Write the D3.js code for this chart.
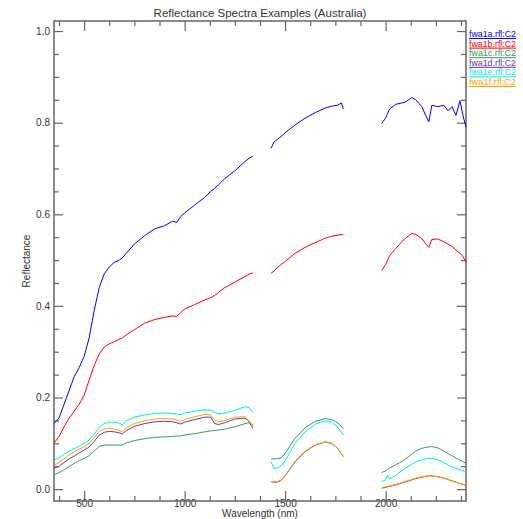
<!DOCTYPE html>
<html>
<head>
<meta charset="utf-8">
<script src="https://cdn.jsdelivr.net/npm/d3@7"></script>
<style>
  body { margin: 0; background: #fff; }
  svg text { font-family: "Liberation Sans", Arial, sans-serif; fill: #333; }
</style>
</head>
<body>
<script>
// wavelength grids (nm) for the three measured segments
const wl1 = [350, 375, 400, 425, 450, 475, 500, 525, 550, 575, 600, 625, 650, 675, 690, 710, 750, 800, 850, 900, 940, 960, 980, 1000, 1050, 1100, 1130, 1150, 1170, 1200, 1250, 1300, 1320, 1340];
const wl2 = [1430, 1445, 1460, 1480, 1500, 1550, 1600, 1650, 1700, 1730, 1760, 1780, 1790];
const wl3 = [1980, 2000, 2010, 2020, 2050, 2080, 2100, 2130, 2150, 2180, 2200, 2215, 2230, 2260, 2290, 2310, 2330, 2350, 2370, 2385, 2400];

const names = ["fwa1a.rfl:C2", "fwa1b.rfl:C2", "fwa1c.rfl:C2", "fwa1d.rfl:C2", "fwa1e.rfl:C2", "fwa1f.rfl:C2"];
const colors = ["#0000ff", "#ff0000", "#3a9a62", "#7034a0", "#00e8f0", "#ffa500"];

const fwa1a = [
  [0.143, 0.155, 0.185, 0.215, 0.245, 0.265, 0.29, 0.33, 0.39, 0.44, 0.47, 0.485, 0.495, 0.50, 0.505, 0.515, 0.535, 0.553, 0.568, 0.575, 0.585, 0.582, 0.595, 0.603, 0.62, 0.637, 0.65, 0.657, 0.665, 0.678, 0.695, 0.715, 0.722, 0.727],
  [0.744, 0.758, 0.763, 0.77, 0.778, 0.795, 0.81, 0.822, 0.832, 0.836, 0.838, 0.843, 0.83],
  [0.798, 0.81, 0.82, 0.83, 0.84, 0.843, 0.845, 0.855, 0.85, 0.835, 0.815, 0.802, 0.838, 0.835, 0.838, 0.826, 0.835, 0.816, 0.848, 0.816, 0.79]
];
const fwa1b = [
  [0.10, 0.115, 0.136, 0.155, 0.17, 0.185, 0.205, 0.238, 0.27, 0.295, 0.31, 0.317, 0.322, 0.327, 0.33, 0.337, 0.348, 0.362, 0.37, 0.375, 0.378, 0.377, 0.385, 0.393, 0.403, 0.413, 0.418, 0.423, 0.43, 0.44, 0.452, 0.464, 0.469, 0.472],
  [0.471, 0.476, 0.483, 0.49, 0.497, 0.515, 0.528, 0.538, 0.548, 0.552, 0.554, 0.556, 0.555],
  [0.477, 0.49, 0.5, 0.51, 0.525, 0.54, 0.548, 0.558, 0.556, 0.547, 0.535, 0.528, 0.545, 0.546, 0.54, 0.535, 0.53, 0.522, 0.515, 0.508, 0.495]
];
const fwa1c = [
  [0.031, 0.036, 0.042, 0.049, 0.056, 0.062, 0.067, 0.073, 0.083, 0.093, 0.096, 0.096, 0.096, 0.096, 0.096, 0.101, 0.106, 0.11, 0.113, 0.114, 0.115, 0.116, 0.116, 0.118, 0.121, 0.125, 0.127, 0.128, 0.129, 0.131, 0.136, 0.143, 0.145, 0.14],
  [0.066, 0.066, 0.066, 0.068, 0.078, 0.111, 0.134, 0.148, 0.154, 0.152, 0.145, 0.137, 0.132],
  [0.036, 0.04, 0.043, 0.046, 0.053, 0.06, 0.066, 0.076, 0.083, 0.089, 0.091, 0.092, 0.093, 0.09, 0.083, 0.078, 0.073, 0.068, 0.063, 0.06, 0.056]
];
const fwa1d = [
  [0.045, 0.05, 0.058, 0.066, 0.072, 0.079, 0.085, 0.092, 0.104, 0.118, 0.124, 0.126, 0.125, 0.123, 0.12, 0.128, 0.137, 0.143, 0.147, 0.148, 0.147, 0.145, 0.142, 0.146, 0.152, 0.157, 0.157, 0.143, 0.141, 0.145, 0.153, 0.155, 0.148, 0.132],
  [0.016, 0.015, 0.015, 0.019, 0.029, 0.06, 0.082, 0.096, 0.103, 0.1, 0.09, 0.078, 0.071],
  [0.002, 0.004, 0.005, 0.006, 0.009, 0.013, 0.016, 0.02, 0.023, 0.026, 0.028, 0.029, 0.029, 0.027, 0.024, 0.021, 0.018, 0.015, 0.012, 0.01, 0.009]
];
const fwa1e = [
  [0.063, 0.068, 0.076, 0.083, 0.088, 0.094, 0.1, 0.107, 0.12, 0.135, 0.143, 0.146, 0.146, 0.144, 0.14, 0.149, 0.157, 0.162, 0.165, 0.166, 0.165, 0.164, 0.162, 0.166, 0.17, 0.173, 0.172, 0.167, 0.164, 0.166, 0.172, 0.18, 0.178, 0.167],
  [0.06, 0.045, 0.046, 0.05, 0.062, 0.1, 0.125, 0.142, 0.149, 0.146, 0.136, 0.124, 0.118],
  [0.016, 0.02, 0.03, 0.022, 0.03, 0.04, 0.046, 0.054, 0.059, 0.064, 0.066, 0.067, 0.067, 0.064, 0.058, 0.053, 0.048, 0.045, 0.042, 0.04, 0.038]
];
const fwa1f = [
  [0.052, 0.058, 0.066, 0.075, 0.081, 0.087, 0.093, 0.1, 0.112, 0.126, 0.131, 0.133, 0.131, 0.128, 0.124, 0.134, 0.143, 0.149, 0.153, 0.154, 0.153, 0.151, 0.148, 0.152, 0.158, 0.163, 0.162, 0.15, 0.147, 0.15, 0.157, 0.158, 0.15, 0.136],
  [0.017, 0.016, 0.016, 0.02, 0.03, 0.061, 0.083, 0.097, 0.103, 0.1, 0.09, 0.078, 0.071],
  [0.003, 0.005, 0.006, 0.007, 0.01, 0.014, 0.017, 0.021, 0.024, 0.027, 0.028, 0.029, 0.029, 0.027, 0.024, 0.021, 0.018, 0.015, 0.012, 0.01, 0.009]
];

const xMajor = [500, 1000, 1500, 2000];
const yMajor = [0, 0.2, 0.4, 0.6, 0.8, 1.0];

const series = [fwa1a, fwa1b, fwa1c, fwa1d, fwa1e, fwa1f];
const grids = [wl1, wl2, wl3];

const W = 523, H = 519;
const frame = {left: 54, right: 466, top: 21, bottom: 501};

const x = d3.scaleLinear().domain([350, 2400]).range([frame.left, frame.right]);
const y = d3.scaleLinear().domain([-0.026, 1.022]).range([frame.bottom, frame.top]);

const xMinor = d3.range(375, 2400, 125).filter(v => xMajor.indexOf(v) < 0);
const yMinor = d3.range(0, 1.0001, 0.05).map(v => +v.toFixed(2)).filter(v => yMajor.indexOf(v) < 0);

const svg = d3.select("body").append("svg")
  .attr("width", W).attr("height", H);

const axisColor = "#666";

// ticks (IDL style, inward, on all four sides)
function ticks(axisFn, scale, values, size, tx, ty) {
  let g = svg.append("g")
    .attr("transform", "translate(" + tx + "," + ty + ")")
    .call(axisFn(scale).tickValues(values).tickSize(size).tickFormat(""));
  g.select(".domain").remove();
  g.selectAll("line").attr("stroke", axisColor).attr("stroke-width", 1.2);
  return g;
}
ticks(d3.axisBottom, x, xMajor, -10, 0, frame.bottom);
ticks(d3.axisBottom, x, xMinor, -5, 0, frame.bottom);
ticks(d3.axisTop, x, xMajor, -10, 0, frame.top);
ticks(d3.axisTop, x, xMinor, -5, 0, frame.top);
ticks(d3.axisLeft, y, yMajor, -9, frame.left, 0);
ticks(d3.axisLeft, y, yMinor, -5, frame.left, 0);
ticks(d3.axisRight, y, yMajor, -9, frame.right, 0);
ticks(d3.axisRight, y, yMinor, -5, frame.right, 0);

// tick labels
let xl = svg.append("g")
  .attr("transform", "translate(0," + frame.bottom + ")")
  .call(d3.axisBottom(x).tickValues(xMajor).tickSize(0).tickPadding(0).tickFormat(d3.format("d")));
xl.select(".domain").remove();
xl.selectAll("text").attr("dy", null).attr("y", 6).style("font-size", "10px").attr("fill", "#333");

let yl = svg.append("g")
  .attr("transform", "translate(" + frame.left + ",0)")
  .call(d3.axisLeft(y).tickValues(yMajor).tickSize(0).tickPadding(4).tickFormat(d3.format(".1f")));
yl.select(".domain").remove();
yl.selectAll("text").style("font-size", "10px").attr("fill", "#333");

// frame
svg.append("rect")
  .attr("x", frame.left).attr("y", frame.top)
  .attr("width", frame.right - frame.left).attr("height", frame.bottom - frame.top)
  .attr("fill", "none").attr("stroke", axisColor).attr("stroke-width", 1.5);

// spectra, drawn in file order so fwa1f lies on top
let line = d3.line().x(d => x(d[0])).y(d => y(d[1]));
series.forEach((s, i) => {
  s.forEach((seg, k) => {
    let pts = grids[k].map((w, j) => [w, seg[j]]);
    svg.append("path")
      .attr("d", line(pts))
      .attr("fill", "none")
      .attr("stroke", colors[i])
      .attr("stroke-width", 1);
  });
});

// titles
svg.append("text")
  .attr("x", (frame.left + frame.right) / 2).attr("y", 17)
  .attr("text-anchor", "middle")
  .style("font-size", "11.5px")
  .text("Reflectance Spectra Examples (Australia)");

svg.append("text")
  .attr("x", (frame.left + frame.right) / 2).attr("y", 516.5)
  .attr("text-anchor", "middle")
  .style("font-size", "10px")
  .text("Wavelength (nm)");

svg.append("text")
  .attr("transform", "translate(30," + ((frame.top + frame.bottom) / 2) + ") rotate(-90)")
  .attr("text-anchor", "middle")
  .style("font-size", "10px")
  .text("Reflectance");

// legend
let leg = svg.append("g");
names.forEach((n, i) => {
  let yy = 37 + i * 9.6;
  leg.append("text")
    .attr("x", 469).attr("y", yy)
    .attr("textLength", 47).attr("lengthAdjust", "spacingAndGlyphs")
    .style("font-size", "9.5px")
    .style("fill", colors[i])
    .text(n);
  leg.append("line")
    .attr("x1", 469).attr("x2", 516)
    .attr("y1", yy + 1.5).attr("y2", yy + 1.5)
    .attr("stroke", colors[i]).attr("stroke-width", 1);
});
</script>
</body>
</html>
